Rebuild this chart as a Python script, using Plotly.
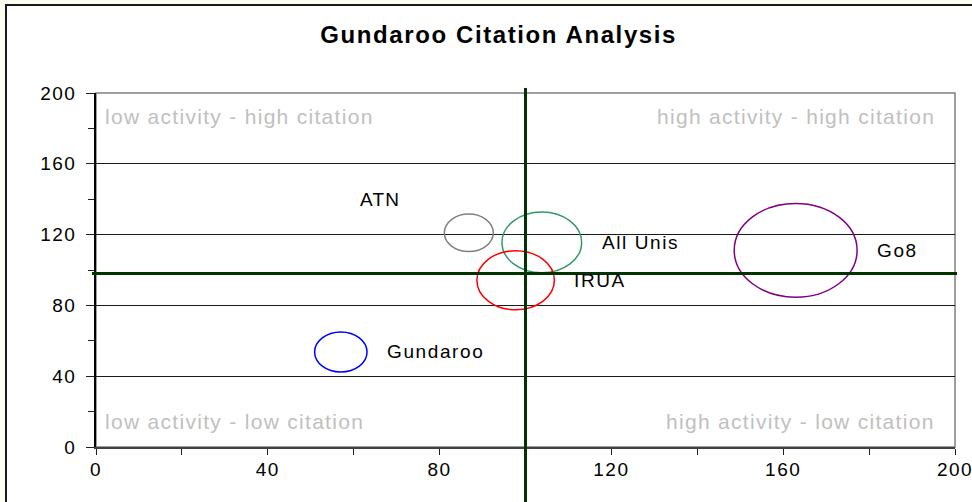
import math
import plotly.graph_objects as go

# ---------------- data ----------------
institutions = ["Gundaroo", "ATN", "All Unis", "IRUA", "Go8"]
activity = [57.0, 86.8, 103.8, 97.7, 162.9]      # x values
citation = [53.7, 121.0, 115.6, 94.2, 111.1]     # y values
bubble_size = [16, 14, 37, 35, 88]               # bubble size values
ref_activity = 100                               # vertical reference line
ref_citation = 98                                # horizontal reference line
x_ticks = [0, 40, 80, 120, 160, 200]
y_ticks = [0, 40, 80, 120, 160, 200]
quadrant_labels = ["low activity - high citation", "high activity - high citation",
                   "low activity - low citation", "high activity - low citation"]

# ---------------- style ----------------
colors = ["#0000ff", "#808080", "#339966", "#ff0000", "#800080"]
FONT = "Liberation Sans, Arial, sans-serif"
W, H = 972, 502
ML, MR, MT, MB = 96, 17, 93, 55
PW, PH = W - ML - MR, H - MT - MB
XR, YR = [0, 200], [0, 200]
ASPECT = 1.31          # bubbles are drawn slightly stretched horizontally
SCALE = 10             # px of vertical diameter per sqrt(size)


def wide(t, ls):
    return f'<span style="letter-spacing:{ls}px">{t}</span>'


fig = go.Figure()

# invisible trace so the axes exist with hover info
fig.add_trace(go.Scatter(x=activity, y=citation, mode="markers",
                         marker=dict(size=1, opacity=0), text=institutions,
                         hoverinfo="text+x+y", showlegend=False))

shapes = []
annotations = []

# white chart area with dark outer border
shapes.append(dict(type="rect", xref="paper", yref="paper", layer="below",
                   x0=(6 - ML) / PW, x1=(W + 10 - ML) / PW,
                   y0=-(MB + 10) / PH, y1=1 + (MT - 5) / PH,
                   line=dict(color="#1a1a1a", width=2), fillcolor="white"))

# plot-area border (grey)
shapes.append(dict(type="rect", xref="paper", yref="paper", layer="below",
                   x0=0, x1=1, y0=0, y1=1, line=dict(color="#808080", width=1.5)))

# bubbles as ellipses through the data scales
xu = (XR[1] - XR[0]) / PW
yu = (YR[1] - YR[0]) / PH
for name, xv, yv, s, c in zip(institutions, activity, citation, bubble_size, colors):
    dv = SCALE * math.sqrt(s)
    dh = dv * ASPECT
    shapes.append(dict(type="circle", xref="x", yref="y",
                       x0=xv - dh / 2 * xu, x1=xv + dh / 2 * xu,
                       y0=yv - dv / 2 * yu, y1=yv + dv / 2 * yu,
                       line=dict(color=c, width=1.5)))
    if name == "ATN":
        annotations.append(dict(x=xv, y=yv, xref="x", yref="y", text=wide(name, 1.2),
                                showarrow=False, xanchor="center", yanchor="middle",
                                xshift=-89, yshift=33,
                                font=dict(family=FONT, size=19, color="black")))
    else:
        annotations.append(dict(x=xv, y=yv, xref="x", yref="y", text=wide(name, 1.6),
                                showarrow=False, xanchor="left", yanchor="middle",
                                xshift=dh / 2 + 18, yshift=0,
                                font=dict(family=FONT, size=19, color="black")))

# reference cross lines
shapes.append(dict(type="line", xref="x", yref="paper",
                   x0=ref_activity, x1=ref_activity,
                   y0=-(MB + 5) / PH, y1=1 + 5 / PH,
                   line=dict(color="#003300", width=3)))
shapes.append(dict(type="line", xref="paper", yref="y",
                   x0=-4 / PW, x1=1 + 2 / PW,
                   y0=ref_citation, y1=ref_citation,
                   line=dict(color="#003300", width=3)))

# quadrant labels
qfont = dict(family=FONT, size=21, color="#c0c0c0")
qpos = [(0, 1, "left", "top", 7, -10), (1, 1, "right", "top", -18, -10),
        (0, 0, "left", "bottom", 7, 12), (1, 0, "right", "bottom", -18, 12)]
for t, (px, py, xa, ya, xs, ys) in zip(quadrant_labels, qpos):
    annotations.append(dict(x=px, y=py, xref="paper", yref="paper", text=wide(t, 1.3),
                            showarrow=False, xanchor=xa, yanchor=ya,
                            xshift=xs, yshift=ys, font=qfont))

fig.update_layout(
    width=W, height=H,
    margin=dict(l=ML, r=MR, t=MT, b=MB, pad=0),
    paper_bgcolor="#fdfdf0",
    plot_bgcolor="white",
    title=dict(text="<b>" + wide("Gundaroo Citation Analysis", 1.6) + "</b>",
               x=0.513, xanchor="center",
               y=1 - 35 / H, yanchor="middle",
               font=dict(family=FONT, size=24, color="black")),
    shapes=shapes,
    annotations=annotations,
    showlegend=False,
    xaxis=dict(range=XR, tickvals=x_ticks, ticktext=[wide(str(v), 1.5) for v in x_ticks],
               showgrid=False, zeroline=False, showline=True, automargin=False,
               ticklabeloverflow="allow",
               linecolor="#404040", linewidth=2,
               ticks="outside", ticklen=6, tickwidth=1, tickcolor="#202020",
               minor=dict(dtick=20, ticks="outside", ticklen=6, tickcolor="#202020", showgrid=False),
               ticklabelstandoff=-2,
               tickfont=dict(family=FONT, size=19, color="black"), fixedrange=True),
    yaxis=dict(range=YR, tickvals=y_ticks, ticktext=[wide(str(v), 1.5) for v in y_ticks],
               showgrid=True, gridcolor="#1a1a1a", gridwidth=1, automargin=False,
               zeroline=False, showline=True, linecolor="black", linewidth=1.5,
               ticks="outside", ticklen=8, tickwidth=1, tickcolor="#202020",
               minor=dict(dtick=20, ticks="outside", ticklen=6, tickcolor="#202020", showgrid=False),
               ticklabelstandoff=6,
               tickfont=dict(family=FONT, size=19, color="black"), fixedrange=True),
)

fig.write_html("out.html", config={"displayModeBar": False},
               post_script="document.body.style.margin='0';document.body.style.overflow='hidden';")
